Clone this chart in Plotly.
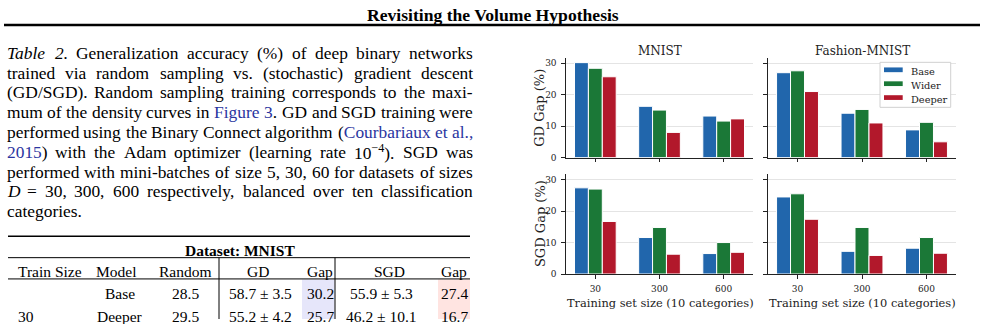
import re
import plotly.graph_objects as go

# ---------------- data ----------------
sizes = ["30", "300", "600"]
models = ["Base", "Wider", "Deeper"]

mnist_gd_base = [30.2, 16.3, 13.2]
mnist_gd_wider = [28.4, 15.1, 11.6]
mnist_gd_deeper = [25.7, 8.0, 12.3]

fashion_gd_base = [27.0, 14.1, 8.8]
fashion_gd_wider = [27.6, 15.3, 11.2]
fashion_gd_deeper = [21.0, 11.0, 5.0]

mnist_sgd_base = [27.4, 11.6, 6.5]
mnist_sgd_wider = [27.0, 14.8, 10.0]
mnist_sgd_deeper = [16.7, 6.3, 6.9]

fashion_sgd_base = [24.5, 7.2, 8.2]
fashion_sgd_wider = [25.5, 14.8, 11.6]
fashion_sgd_deeper = [17.4, 5.9, 6.6]

table_header = ["Train Size", "Model", "Random", "GD", "Gap", "SGD", "Gap"]
table_row1 = ["", "Base", "28.5", "58.7 ± 3.5", "30.2", "55.9 ± 5.3", "27.4"]
table_row2 = ["30", "Deeper", "29.5", "55.2 ± 4.2", "25.7", "46.2 ± 10.1", "16.7"]

colors = {"Base": "#2166ac", "Wider": "#1b7837", "Deeper": "#b2182b"}

W, H = 985, 324


def px(x):
    return x / W


def py(y):
    return 1 - y / H


CHART_FONT = "DejaVu Serif"
TEXT_FONT = "Liberation Serif"
INK = "#222222"

fig = go.Figure()

panels = [
    ("x", "y", [mnist_gd_base, mnist_gd_wider, mnist_gd_deeper]),
    ("x2", "y2", [fashion_gd_base, fashion_gd_wider, fashion_gd_deeper]),
    ("x3", "y3", [mnist_sgd_base, mnist_sgd_wider, mnist_sgd_deeper]),
    ("x4", "y4", [fashion_sgd_base, fashion_sgd_wider, fashion_sgd_deeper]),
]
for xa, ya, series in panels:
    for name, vals in zip(models, series):
        fig.add_trace(go.Bar(
            x=sizes, y=vals, name=name, xaxis=xa, yaxis=ya,
            marker=dict(color=colors[name], line=dict(color="white", width=1)),
            showlegend=False, offsetgroup=name,
        ))

xL = [px(566), px(753)]
xR = [px(768), px(956)]
yT = [py(160), py(58.8)]
yB = [py(278.3), py(177)]
YMAX = 31.71
XR = [-0.4575, 2.4575]

common_x = dict(type="category", categoryorder="array", categoryarray=sizes,
                range=XR, showline=True, linecolor=INK, linewidth=1.2,
                ticks="outside", ticklen=3.5, tickwidth=1, tickcolor=INK,
                showgrid=False, zeroline=False,
                tickfont=dict(family=CHART_FONT, size=9, color=INK))
common_y = dict(range=[0, YMAX], tickvals=[0, 10, 20, 30], showline=True,
                linecolor=INK, linewidth=1.2, ticks="outside", ticklen=3.5,
                tickwidth=1, tickcolor=INK, showgrid=True, gridcolor="#e4e4e4",
                gridwidth=1, zeroline=False,
                tickfont=dict(family=CHART_FONT, size=9, color=INK))

fig.update_layout(
    xaxis=dict(common_x, domain=xL, anchor="y", showticklabels=False),
    xaxis2=dict(common_x, domain=xR, anchor="y2", showticklabels=False),
    xaxis3=dict(common_x, domain=xL, anchor="y3", ticklabelstandoff=3),
    xaxis4=dict(common_x, domain=xR, anchor="y4", ticklabelstandoff=3),
    yaxis=dict(common_y, domain=yT, anchor="x", ticklabelstandoff=3),
    yaxis2=dict(common_y, domain=yT, anchor="x2", showticklabels=False),
    yaxis3=dict(common_y, domain=yB, anchor="x3", ticklabelstandoff=3),
    yaxis4=dict(common_y, domain=yB, anchor="x4", showticklabels=False),
    barmode="group", bargap=0.35, bargroupgap=0,
    width=W, height=H, margin=dict(l=0, r=0, t=0, b=0),
    paper_bgcolor="white", plot_bgcolor="white", showlegend=False,
)

ann = []
shapes = []


def text(x, y, s, size, family=CHART_FONT, xanchor="center", yanchor="middle",
         color="black", angle=0):
    ann.append(dict(x=px(x), y=py(y), xref="paper", yref="paper", text=s,
                    showarrow=False, xanchor=xanchor, yanchor=yanchor,
                    textangle=angle, borderpad=0, borderwidth=0,
                    font=dict(family=family, size=size, color=color)))


# chart titles and labels
text(659.5, 52, "MNIST", 12, color=INK)
text(862, 52, "Fashion-MNIST", 12, color=INK)
text(660, 307.5, "Training set size (10 categories)", 11.4, color=INK)
text(862, 307.5, "Training set size (10 categories)", 11.4, color=INK)
text(540, 109.5, "GD Gap (%)", 13, color=INK, angle=-90)
text(540, 227.6, "SGD Gap (%)", 13, color=INK, angle=-90)

# legend (drawn by hand to get matplotlib-like wide patches)
shapes.append(dict(type="rect", xref="paper", yref="paper", x0=px(880), x1=px(950.7),
                   y0=py(109), y1=py(63.3), line=dict(color="#d0d0d0", width=1),
                   fillcolor="white", layer="above"))
for i, name in enumerate(models):
    yc = 70.9 + i * 14.1
    shapes.append(dict(type="rect", xref="paper", yref="paper", x0=px(884), x1=px(902.7),
                       y0=py(yc + 2.4), y1=py(yc - 2.4), line=dict(width=0),
                       fillcolor=colors[name], layer="above"))
    text(911, yc + 1.5, name, 9.8, xanchor="left", color=INK)

# ---------------- page header ----------------
text(492.5, 15, "<b>Revisiting the Volume Hypothesis</b>", 17.6, family=TEXT_FONT)
shapes.append(dict(type="line", xref="paper", yref="paper", x0=px(4), x1=px(980),
                   y0=py(25.3), y1=py(25.3), line=dict(color="black", width=2.5)))

# ---------------- caption (justified) ----------------
BLUE = "#2a35a0"
TW = {' ': 250, '!': 333, '(': 333, ')': 333, ',': 250, '-': 333, '.': 250, '/': 278,
      ':': 278, ';': 278, '=': 564, '%': 833, '±': 564, '−': 564}
for c in "0123456789":
    TW[c] = 500
TW.update(dict(A=722, B=667, C=667, D=722, E=611, F=556, G=722, H=722, I=333, J=389,
               K=722, L=611, M=889, N=722, O=722, P=556, Q=722, R=667, S=556, T=611,
               U=722, V=722, W=944, X=722, Y=722, Z=611, a=444, b=500, c=444, d=500,
               e=444, f=333, g=500, h=500, i=278, j=278, k=500, l=278, m=778, n=500,
               o=500, p=500, q=500, r=333, s=389, t=278, u=500, v=500, w=722, x=500,
               y=500, z=444))


def html_width(h, size):
    total = 0.0
    for part in re.split(r"(<sup>.*?</sup>)", h):
        scale = 0.7 if part.startswith("<sup>") else 1.0
        plain = re.sub(r"<[^>]+>", "", part)
        total += sum(TW.get(ch, 500) for ch in plain) * scale
    return total / 1000.0 * size + 1.5


def blue(s):
    return "<span style='color:%s'>%s</span>" % (BLUE, s)


caption_lines = [
    ["<i>Table</i>", "<i>2.</i>", "Generalization", "accuracy", "(%)", "of", "deep", "binary", "networks"],
    "trained via random sampling vs. (stochastic) gradient descent".split(),
    "(GD/SGD). Random sampling training corresponds to the maxi-".split(),
    ["mum", "of", "the", "density", "curves", "in", blue("Figure"), blue("3") + ".", "GD", "and",
     "SGD", "training", "were"],
    ["performed", "using", "the", "Binary", "Connect", "algorithm", "(" + blue("Courbariaux"),
     blue("et"), blue("al.,")],
    [blue("2015") + ")", "with", "the", "Adam", "optimizer", "(learning", "rate",
     "10<sup>−4</sup>).", "SGD", "was"],
    "performed with mini-batches of size 5, 30, 60 for datasets of sizes".split(),
    ["<i>D</i>", "=", "30,", "300,", "600", "respectively,", "balanced", "over", "ten",
     "classification"],
    ["categories."],
]
CAP_SIZE = 17.4
LEFT, RIGHT = 6.5, 474.5
for k, words in enumerate(caption_lines):
    yb = 59.5 + 20.1 * k
    yc = yb - 0.32 * 18.2
    widths = [html_width(w, CAP_SIZE) for w in words]
    if k < len(caption_lines) - 1 and len(words) > 1:
        gap = (RIGHT - LEFT - sum(widths)) / (len(words) - 1)
    else:
        gap = 0.25 * CAP_SIZE
    xpos = LEFT
    for w, wd in zip(words, widths):
        text(xpos, yc, w, CAP_SIZE, family=TEXT_FONT, xanchor="left")
        xpos += wd + gap

# ---------------- table ----------------
TS = 15.5
shapes.append(dict(type="rect", xref="paper", yref="paper", x0=px(302), x1=px(334.5),
                   y0=py(324), y1=py(283.8), line=dict(width=0), fillcolor="#e6e6fa",
                   layer="below"))
shapes.append(dict(type="rect", xref="paper", yref="paper", x0=px(438), x1=px(470),
                   y0=py(324), y1=py(283.8), line=dict(width=0), fillcolor="#ffe4e1",
                   layer="below"))
for yy, lw in [(240, 1.6), (261.7, 1.0), (283.3, 1.0)]:
    shapes.append(dict(type="line", xref="paper", yref="paper", x0=px(8), x1=px(470),
                       y0=py(yy), y1=py(yy), line=dict(color="black", width=lw)))
for xx in [219, 335]:
    shapes.append(dict(type="line", xref="paper", yref="paper", x0=px(xx), x1=px(xx),
                       y0=py(261.7), y1=py(324), line=dict(color="black", width=1)))

text(240, 254, "<b>Dataset: MNIST</b>", TS, family=TEXT_FONT)
head_x = [18, 116, 185, 258, 320, 389, 454]
row_x = [18, 120, 185, 260, 320, 381, 454]
for i, h in enumerate(table_header):
    text(head_x[i], 275.5, h, TS, family=TEXT_FONT, xanchor="left" if i == 0 else "center")
for ry, row in [(297.8, table_row1), (321.5, table_row2)]:
    for i, v in enumerate(row):
        if v:
            text(row_x[i], ry, v, TS, family=TEXT_FONT, xanchor="left" if i == 0 else "center")

fig.update_layout(annotations=ann, shapes=shapes)
fig.write_html("out.html", config={"displayModeBar": False})
